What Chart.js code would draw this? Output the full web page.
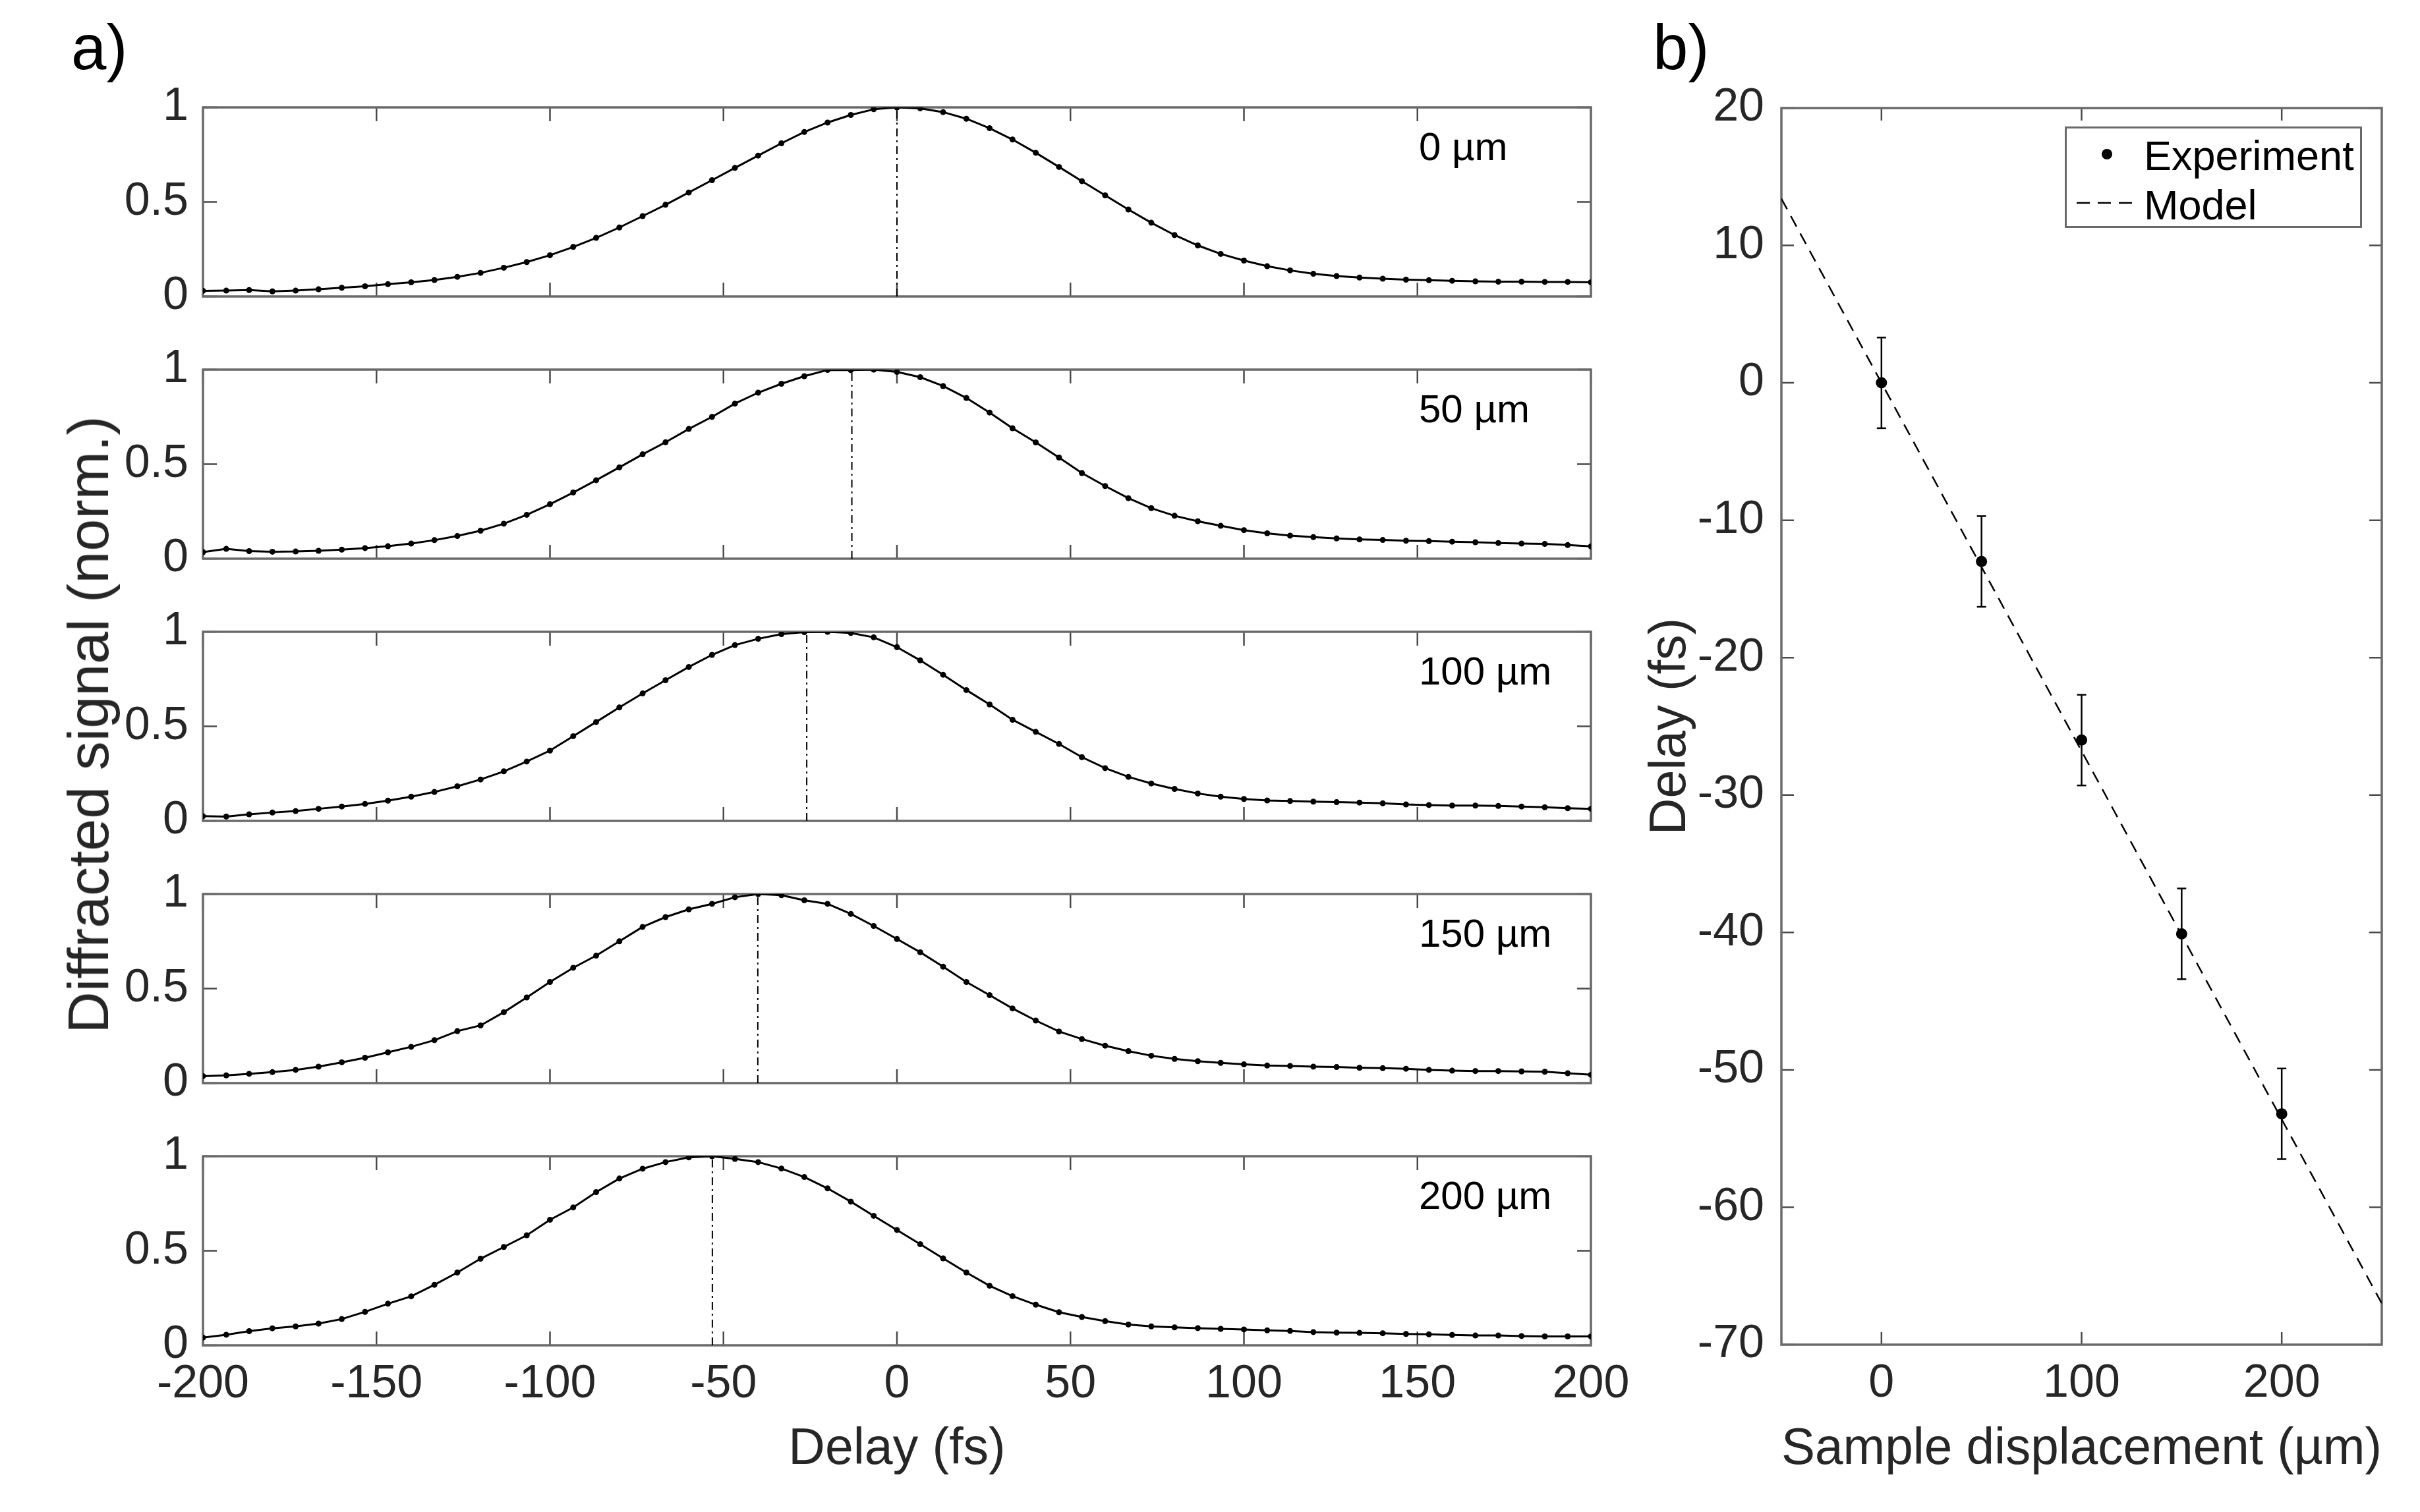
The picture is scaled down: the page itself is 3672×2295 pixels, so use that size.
<!DOCTYPE html>
<html><head><meta charset="utf-8">
<script src="https://cdn.jsdelivr.net/npm/chart.js@4.4.1/dist/chart.umd.min.js"></script>
<style>
html,body{margin:0;padding:0;background:#fff;width:3672px;height:2295px;overflow:hidden;}
#root{position:relative;width:3672px;height:2295px;background:#fff;}
.t{position:absolute;font-family:"Liberation Sans",Arial,Helvetica,sans-serif;white-space:nowrap;line-height:1;}
</style></head><body>
<div id="root"></div>
<script>
// ---------------- DATA ----------------
const delays = [-200,-193.3,-186.7,-180,-173.3,-166.7,-160,-153.3,-146.7,-140,-133.3,-126.7,-120,-113.3,-106.7,-100,-93.3,-86.7,-80,-73.3,-66.7,-60,-53.3,-46.7,-40,-33.3,-26.7,-20,-13.3,-6.7,0,6.7,13.3,20,26.7,33.3,40,46.7,53.3,60,66.7,73.3,80,86.7,93.3,100,106.7,113.3,120,126.7,133.3,140,146.7,153.3,160,166.7,173.3,180,186.7,193.3,200];

const signal0um = [0.030,0.031,0.034,0.027,0.031,0.038,0.046,0.054,0.065,0.075,0.087,0.104,0.125,0.152,0.182,0.218,0.262,0.310,0.365,0.425,0.485,0.550,0.615,0.680,0.745,0.810,0.870,0.920,0.960,0.990,1.000,
  0.995,0.975,0.940,0.890,0.830,0.760,0.685,0.610,0.535,0.460,0.390,0.325,0.270,0.225,0.190,0.160,0.138,0.120,0.108,0.100,0.094,0.089,0.086,0.083,0.080,0.078,0.078,0.077,0.077,0.075];

const signal50um = [0.035,0.052,0.040,0.037,0.038,0.042,0.048,0.056,0.066,0.080,0.098,0.120,0.148,0.185,0.232,0.288,0.350,0.415,0.483,0.552,0.616,0.686,0.750,0.820,0.878,0.925,0.965,0.998,0.997,1.000,
  0.988,0.960,0.913,0.850,0.773,0.690,0.615,0.535,0.453,0.384,0.320,0.267,0.227,0.198,0.174,0.151,0.134,0.122,0.114,0.107,0.102,0.099,0.095,0.093,0.090,0.087,0.083,0.080,0.078,0.072,0.065];

const signal100um = [0.025,0.023,0.035,0.044,0.052,0.064,0.076,0.090,0.107,0.128,0.153,0.183,0.219,0.262,0.314,0.372,0.448,0.523,0.600,0.674,0.744,0.814,0.878,0.930,0.963,0.988,0.998,1.000,0.994,0.971,
  0.919,0.849,0.773,0.692,0.616,0.535,0.471,0.407,0.337,0.279,0.233,0.198,0.169,0.145,0.128,0.116,0.108,0.105,0.102,0.099,0.097,0.093,0.087,0.084,0.081,0.081,0.079,0.076,0.072,0.067,0.064];

const signal150um = [0.037,0.041,0.049,0.058,0.070,0.087,0.110,0.134,0.163,0.192,0.227,0.275,0.305,0.375,0.453,0.535,0.610,0.674,0.750,0.826,0.878,0.919,0.948,0.983,1.000,0.994,0.967,0.948,0.895,0.831,
  0.762,0.692,0.616,0.535,0.465,0.395,0.331,0.273,0.233,0.198,0.169,0.145,0.128,0.116,0.107,0.099,0.093,0.091,0.087,0.085,0.081,0.079,0.076,0.070,0.066,0.064,0.064,0.062,0.060,0.052,0.044];

const signal200um = [0.041,0.056,0.075,0.090,0.100,0.115,0.139,0.177,0.220,0.259,0.320,0.385,0.458,0.520,0.582,0.664,0.729,0.810,0.882,0.934,0.969,0.994,1.000,0.986,0.969,0.935,0.890,0.830,0.760,0.685,
  0.610,0.535,0.460,0.385,0.315,0.260,0.215,0.175,0.150,0.128,0.110,0.100,0.095,0.091,0.087,0.084,0.079,0.076,0.070,0.067,0.066,0.064,0.060,0.058,0.055,0.052,0.052,0.049,0.047,0.047,0.047];

const displacements = [0, 50, 100, 150, 200];          // µm
const measuredDelay = [0, -13.0, -26.0, -40.1, -53.2];  // fs
const delayError = [3.3, 3.3, 3.3, 3.3, 3.3];           // fs
const modelDisp = [-50, 250];
const modelDelay = [13.4, -67.0];

const xTicksA = [-200,-150,-100,-50,0,50,100,150,200];
const yTicksA = [0, 0.5, 1];
const xTicksB = [0, 100, 200];
const yTicksB = [-70,-60,-50,-40,-30,-20,-10,0,10,20];

const signals = [signal0um, signal50um, signal100um, signal150um, signal200um];

// ---------------- LAYOUT / STYLE ----------------
const FONT = '"Liberation Sans", Arial, Helvetica, sans-serif';
const TXT = '#262626';
Chart.defaults.font.family = FONT;
const root = document.getElementById('root');

function makeCanvas(left, top, w, h){
  const c = document.createElement('canvas');
  c.width = w; c.height = h;
  c.style.cssText = `position:absolute;left:${left}px;top:${top}px;width:${w}px;height:${h}px;`;
  root.appendChild(c);
  return c;
}
function addText(txt, css){
  const d = document.createElement('div');
  d.className = 't';
  d.textContent = txt;
  d.style.cssText += css;
  root.appendChild(d);
  return d;
}

const boxPlugin = {
  id: 'mbox',
  beforeDatasetsDraw(chart, args, opts){
    const {ctx, chartArea: a} = chart;
    const xs = chart.scales.x, ys = chart.scales.y;
    ctx.save();
    ctx.lineWidth = 2.5; ctx.strokeStyle = '#4a4a4a';
    ctx.beginPath();
    xs.ticks.forEach(t => {
      const p = xs.getPixelForValue(t.value);
      ctx.moveTo(p, a.bottom); ctx.lineTo(p, a.bottom - opts.tx);
      ctx.moveTo(p, a.top); ctx.lineTo(p, a.top + opts.tx);
    });
    ys.ticks.forEach(t => {
      const p = ys.getPixelForValue(t.value);
      ctx.moveTo(a.left, p); ctx.lineTo(a.left + opts.ty, p);
      ctx.moveTo(a.right, p); ctx.lineTo(a.right - opts.ty, p);
    });
    ctx.stroke();
    ctx.lineWidth = 3.5; ctx.strokeStyle = '#6a6a6a';
    ctx.strokeRect(a.left, a.top, a.right - a.left, a.bottom - a.top);
    ctx.restore();
  }
};

// ---------------- PANEL a ----------------
const panelTops = [163, 561, 959, 1357, 1755];
const panelH = 287;
const plotLeftA = 308, plotRightA = 2414;
const M = 80; // margin above/below each small plot (room for tick labels)

panelTops.forEach((top, k) => {
  const isBottom = k === panelTops.length - 1;
  const xh = isBottom ? (2295 - (top + panelH)) : M;
  const cTop = top - M;
  const cH = M + panelH + xh;
  const cW = plotRightA + 80;
  const canvas = makeCanvas(0, cTop, cW, cH);
  new Chart(canvas, {
    type: 'scatter',
    data: {
      datasets: [
        {
          data: [{x: measuredDelay[k], y: 0}, {x: measuredDelay[k], y: 1}],
          showLine: true, borderColor: '#000', borderWidth: 2,
          borderDash: [12, 6, 3, 6], pointRadius: 0
        },
        {
          data: delays.map((d, i) => ({x: d, y: signals[k][i]})),
          showLine: true, borderColor: '#000', borderWidth: 3, tension: 0,
          pointRadius: 4.5, pointBackgroundColor: '#000', pointBorderWidth: 0
        }
      ]
    },
    options: {
      responsive: false, animation: false, devicePixelRatio: 1,
      layout: {padding: {left: 0, top: M, right: cW - plotRightA, bottom: 0}},
      plugins: {legend: {display: false}, tooltip: {enabled: false}, mbox: {tx: 21, ty: 21}},
      scales: {
        x: {
          type: 'linear', min: -200, max: 200,
          afterBuildTicks: s => { s.ticks = xTicksA.map(v => ({value: v})); },
          afterFit: s => { s.height = xh; },
          grid: {display: false, drawTicks: false},
          border: {display: false},
          ticks: {display: isBottom, font: {size: 70}, color: TXT, padding: 18, maxRotation: 0, autoSkip: false},
          title: {display: isBottom, text: 'Delay (fs)', font: {size: 77}, color: TXT, padding: {top: 0, bottom: 48}}
        },
        y: {
          type: 'linear', min: 0, max: 1,
          afterBuildTicks: s => { s.ticks = yTicksA.map(v => ({value: v})); },
          afterFit: s => { s.width = plotLeftA; },
          grid: {display: false, drawTicks: false},
          border: {display: false},
          ticks: {font: {size: 70}, color: TXT, padding: 22, callback: v => String(v)}
        }
      }
    },
    plugins: [boxPlugin]
  });
  addText(displacements[k] + ' µm', `left:2153px;top:${top + 30}px;font-size:60px;color:#000;`);
});

// ---------------- PANEL b ----------------
(function(){
  const cLeft = 2470, cTop = 60, cW = 3672 - 2470, cH = 2295 - 60;
  const plotLeft = 2703, plotRight = 3614, plotTop = 164, plotBottom = 2041;
  const canvas = makeCanvas(cLeft, cTop, cW, cH);
  const errSets = displacements.map((x, i) => ({
    data: [{x: x, y: measuredDelay[i] - delayError[i]}, {x: x, y: measuredDelay[i] + delayError[i]}],
    showLine: true, borderColor: '#000', borderWidth: 2.5,
    pointStyle: 'line', pointRadius: 7, pointBorderColor: '#000', pointBorderWidth: 2.5
  }));
  new Chart(canvas, {
    type: 'scatter',
    data: {
      datasets: [
        {
          data: modelDisp.map((x, i) => ({x: x, y: modelDelay[i]})),
          showLine: true, borderColor: '#000', borderWidth: 2.5, borderDash: [18, 12], pointRadius: 0
        },
        ...errSets,
        {
          data: displacements.map((x, i) => ({x: x, y: measuredDelay[i]})),
          pointRadius: 8.5, pointBackgroundColor: '#000', pointBorderWidth: 0
        }
      ]
    },
    options: {
      responsive: false, animation: false, devicePixelRatio: 1,
      layout: {padding: {left: 0, top: plotTop - cTop, right: cLeft + cW - plotRight, bottom: 0}},
      plugins: {legend: {display: false}, tooltip: {enabled: false}, mbox: {tx: 19, ty: 19}},
      scales: {
        x: {
          type: 'linear', min: -50, max: 250,
          afterBuildTicks: s => { s.ticks = xTicksB.map(v => ({value: v})); },
          afterFit: s => { s.height = (cTop + cH) - plotBottom; },
          grid: {display: false, drawTicks: false},
          border: {display: false},
          ticks: {font: {size: 70}, color: TXT, padding: 18, maxRotation: 0, autoSkip: false},
          title: {display: true, text: 'Sample displacement (µm)', font: {size: 77}, color: TXT, padding: {top: 0, bottom: 48}}
        },
        y: {
          type: 'linear', min: -70, max: 20,
          afterBuildTicks: s => { s.ticks = yTicksB.map(v => ({value: v})); },
          afterFit: s => { s.width = plotLeft - cLeft; },
          grid: {display: false, drawTicks: false},
          border: {display: false},
          ticks: {font: {size: 70}, color: TXT, padding: 26, callback: v => String(v)},
          title: {display: true, text: 'Delay (fs)', font: {size: 77}, color: TXT, padding: {top: 20, bottom: 0}}
        }
      }
    },
    plugins: [boxPlugin]
  });

  // legend (HTML)
  const lg = document.createElement('div');
  lg.style.cssText = 'position:absolute;left:3133px;top:192px;width:451px;height:154px;box-sizing:border-box;border:3px solid #6a6a6a;background:#fff;';
  root.appendChild(lg);
  const dot = document.createElement('div');
  dot.style.cssText = 'position:absolute;left:3189px;top:226px;width:16px;height:16px;border-radius:50%;background:#000;';
  root.appendChild(dot);
  const svgNS = 'http://www.w3.org/2000/svg';
  const svg = document.createElementNS(svgNS, 'svg');
  svg.setAttribute('width', '100'); svg.setAttribute('height', '10');
  svg.style.cssText = 'position:absolute;left:3150px;top:303px;';
  const ln = document.createElementNS(svgNS, 'line');
  ln.setAttribute('x1', '1'); ln.setAttribute('y1', '5'); ln.setAttribute('x2', '96'); ln.setAttribute('y2', '5');
  ln.setAttribute('stroke', '#000'); ln.setAttribute('stroke-width', '2.5'); ln.setAttribute('stroke-dasharray', '20 12');
  svg.appendChild(ln); root.appendChild(svg);
  addText('Experiment', 'left:3253px;top:205px;font-size:63px;color:#000;');
  addText('Model', 'left:3253px;top:280px;font-size:63px;color:#000;');
})();

// ---------------- free texts ----------------
addText('a)', 'left:108px;top:24px;font-size:96px;color:#000;');
addText('b)', 'left:2508px;top:24px;font-size:96px;color:#000;');
addText('Diffracted signal (norm.)', `left:134px;top:1100px;font-size:88px;color:${TXT};transform:translate(-50%,-50%) rotate(-90deg);`);
</script>
</body></html>
